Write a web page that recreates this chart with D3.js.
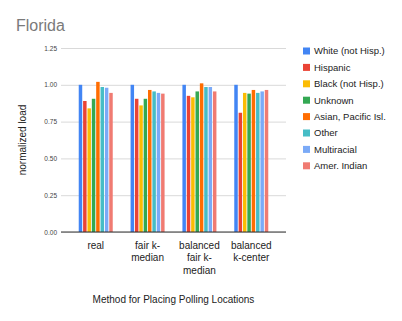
<!DOCTYPE html>
<html lang="en">
<head>
  <meta charset="UTF-8">
  <title>Florida</title>
  <script src="https://d3js.org/d3.v7.min.js"></script>
  <style>
    body { margin: 0; background: #fff; }
    text { font-family: Arial, "Liberation Sans", sans-serif; }
  </style>
</head>
<body>
  <div id="chart"></div>

  <script>
    const categories = ["real", "fair k-median", "balanced fair k-median", "balanced k-center"];
    const categoryLines = [["real"], ["fair k-", "median"], ["balanced", "fair k-", "median"], ["balanced", "k-center"]];
    const series = ["White (not Hisp.)", "Hispanic", "Black (not Hisp.)", "Unknown",
                    "Asian, Pacific Isl.", "Other", "Multiracial", "Amer. Indian"];
    const colors = ["#4285F4", "#EA4335", "#FBBC04", "#34A853", "#FF6D01", "#46BDC6", "#7BAAF7", "#F07B72"];
    // one array per series, values per category
    const white       = [1.00, 1.00, 1.00, 1.00];
    const hispanic    = [0.89, 0.905, 0.925, 0.81];
    const black       = [0.84, 0.86, 0.915, 0.945];
    const unknown     = [0.905, 0.905, 0.955, 0.94];
    const asian       = [1.02, 0.965, 1.01, 0.965];
    const other       = [0.985, 0.955, 0.985, 0.945];
    const multiracial = [0.98, 0.945, 0.985, 0.955];
    const amerIndian  = [0.945, 0.94, 0.955, 0.965];
    const values = [white, hispanic, black, unknown, asian, other, multiracial, amerIndian];
    const yTicks = [0, 0.25, 0.5, 0.75, 1.0, 1.25];

    const W = 402, H = 321;
    const plot = { left: 61, right: 286, top: 48, bottom: 232 };

    const svg = d3.select("#chart")
      .append("svg")
      .attr("width", W)
      .attr("height", H);

    svg.append("text")
      .attr("x", 16)
      .attr("y", 31)
      .attr("font-size", 16)
      .attr("fill", "#7a7a7a")
      .text("Florida");

    const y = d3.scaleLinear()
      .domain([0, 1.25])
      .range([plot.bottom, plot.top]);

    const x = d3.scalePoint()
      .domain(categories)
      .range([plot.left, plot.right])
      .padding(0.67);

    const xs = d3.scaleBand()
      .domain(series)
      .range([-17, 17])
      .paddingInner(0.2);

    // gridlines
    const grid = svg.append("g")
      .attr("transform", `translate(${plot.left},0)`)
      .call(d3.axisLeft(y).tickValues(yTicks).tickSize(-(plot.right - plot.left)).tickFormat(d3.format(".2f")).tickPadding(4));
    grid.select(".domain").remove();
    grid.selectAll(".tick line").attr("stroke", "#d9d9d9");
    grid.selectAll(".tick text")
      .attr("fill", "#444")
      .attr("font-size", 6.5)
      .attr("font-family", "Arial, 'Liberation Sans', sans-serif");

    // bars
    const groups = svg.append("g")
      .selectAll("g")
      .data(series)
      .join("g")
      .attr("fill", (d, i) => colors[i]);

    groups.selectAll("rect")
      .data((s, i) => categories.map((c, j) => ({ cat: c, s: s, v: values[i][j] })))
      .join("rect")
      .attr("x", d => x(d.cat) + xs(d.s))
      .attr("width", xs.bandwidth())
      .attr("y", d => y(d.v))
      .attr("height", d => y(0) - y(d.v));

    // baseline
    svg.append("line")
      .attr("x1", plot.left).attr("x2", plot.right)
      .attr("y1", y(0)).attr("y2", y(0))
      .attr("stroke", "#333");

    // category labels
    const xl = svg.append("g")
      .selectAll("text")
      .data(categories)
      .join("text")
      .attr("x", d => x(d))
      .attr("y", 248.5)
      .attr("text-anchor", "middle")
      .attr("font-size", 10)
      .attr("fill", "#222");
    xl.each(function(d, i) {
      d3.select(this).selectAll("tspan")
        .data(categoryLines[i])
        .join("tspan")
        .attr("x", x(d))
        .attr("dy", (t, k) => k === 0 ? 0 : 12.7)
        .text(t => t);
    });

    svg.append("text")
      .attr("x", (plot.left + plot.right) / 2)
      .attr("y", 302.5)
      .attr("text-anchor", "middle")
      .attr("font-size", 10)
      .attr("fill", "#222")
      .text("Method for Placing Polling Locations");

    svg.append("text")
      .attr("transform", `translate(26,${(plot.top + plot.bottom) / 2}) rotate(-90)`)
      .attr("text-anchor", "middle")
      .attr("font-size", 10)
      .attr("fill", "#222")
      .text("normalized load");

    // legend
    const legend = svg.append("g")
      .selectAll("g")
      .data(series)
      .join("g")
      .attr("transform", (d, i) => `translate(303,${51 + i * 16.4})`);
    legend.append("rect")
      .attr("x", 0).attr("y", -3.5)
      .attr("width", 7).attr("height", 7)
      .attr("fill", (d, i) => colors[i]);
    legend.append("text")
      .attr("x", 11)
      .attr("y", 3.4)
      .attr("font-size", 9.5)
      .attr("fill", "#222")
      .text(d => d);
  </script>
</body>
</html>
